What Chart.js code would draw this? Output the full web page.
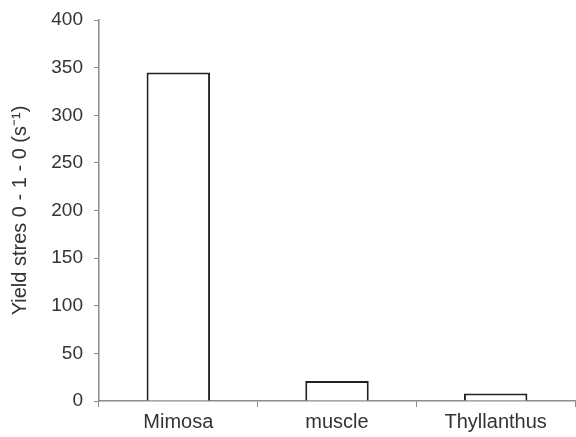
<!DOCTYPE html>
<html>
<head>
<meta charset="utf-8">
<script src="https://cdn.jsdelivr.net/npm/chart.js@4"></script>
<style>
  body { margin: 0; background: #fff; }
  #wrap { width: 576px; height: 437px; }
</style>
</head>
<body>
<div id="wrap"><canvas id="grafica" width="576" height="437"></canvas></div>
<script>
// datos
const categorias = ['Mimosa', 'muscle', 'Thyllanthus'];
const valores = [345, 21, 8];
const marcasY = [0, 50, 100, 150, 200, 250, 300, 350, 400];

const colorEje = '#8c8c8c';
const colorTexto = '#333333';

const data = {
  labels: categorias,
  datasets: [
    {
      label: 'Yield stress',
      data: valores,
      backgroundColor: '#ffffff',
      borderColor: '#222222',
      borderWidth: 2,
      barPercentage: 0.4,
      categoryPercentage: 1,
    },
  ],
};

const config = {
  type: 'bar',
  data: data,
  options: {
    responsive: false,
    animation: false,
    layout: { padding: { top: 4, right: 1, left: 0, bottom: 0 } },
    plugins: {
      legend: { display: false },
      tooltip: { enabled: false },
    },
    scales: {
      x: {
        grid: {
          display: true,
          offset: true,
          drawOnChartArea: false,
          color: colorEje,
          tickLength: 6,
        },
        border: { color: colorEje, width: 1.5 },
        ticks: {
          color: colorTexto,
          font: { family: 'Liberation Sans, Arial', size: 20 },
          padding: 3,
        },
        afterFit: (scale) => { scale.height = 36; },
      },
      y: {
        min: 0,
        max: 400,
        afterBuildTicks: (scale) => {
          scale.ticks = marcasY.map((v) => ({ value: v }));
        },
        grid: {
          display: true,
          drawOnChartArea: false,
          color: colorEje,
          tickLength: 5,
        },
        border: { color: colorEje, width: 1.5 },
        ticks: {
          color: colorTexto,
          font: { family: 'Liberation Sans, Arial', size: 19, lineHeight: 0.95 },
          padding: 11,
        },
        title: {
          display: true,
          text: 'Yield stres 0 - 1 - 0 (s\u207B\u00B9)',
          color: colorTexto,
          font: { family: 'Liberation Sans, Arial', size: 20 },
          padding: { top: 8, bottom: 4 },
        },
        afterFit: (scale) => { scale.width = 99; },
      },
    },
  },
};

let miGrafica = new Chart(document.querySelector('#grafica'), config);
</script>
</body>
</html>
